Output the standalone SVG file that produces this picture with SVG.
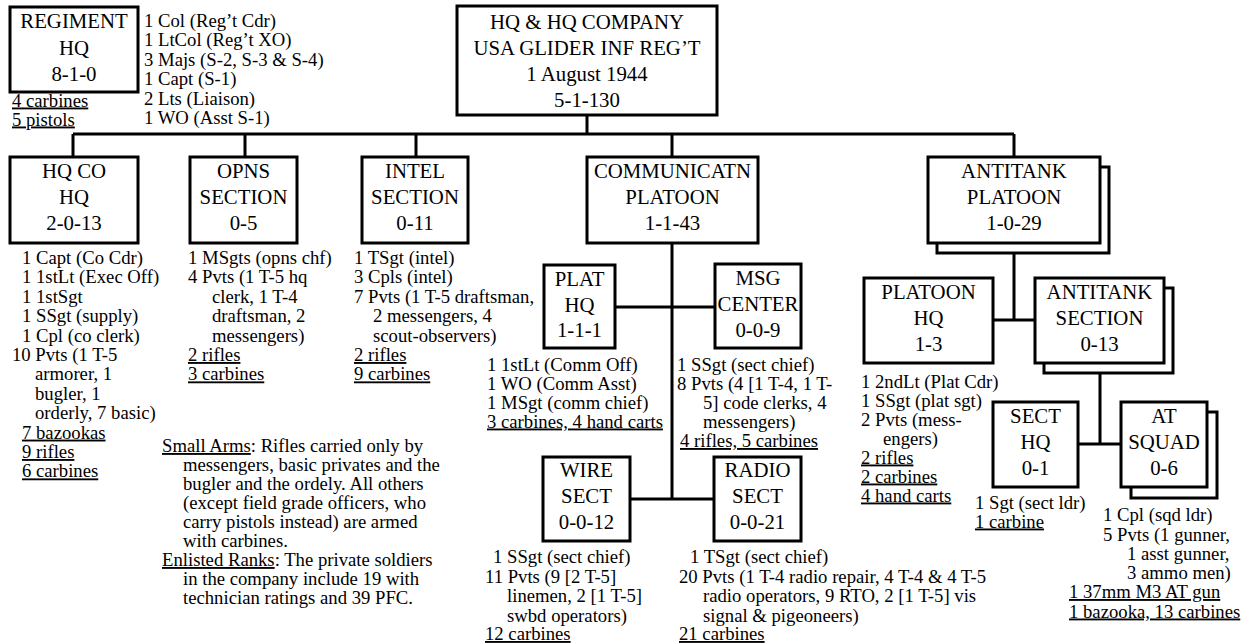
<svg xmlns="http://www.w3.org/2000/svg" width="1249" height="644" viewBox="0 0 1249 644">
<style>
.b{fill:#fff;stroke:#000;stroke-width:3}
.c{stroke:#000;stroke-width:3;fill:none}
.h{font-family:"Liberation Serif","Times New Roman",serif;font-size:20.8px;text-anchor:middle;fill:#000}
.t{font-family:"Liberation Serif","Times New Roman",serif;font-size:18.7px;fill:#000}
.u{text-decoration:underline}
</style>
<rect width="1249" height="644" fill="#fff"/>
<g id="connectors">
<path class="c" d="M587,115V134M73,134H1014M73,134V157M245,134V157M416,134V157M672,134V157M1014,134V157"/>
<path class="c" d="M672,243V499M615,307H715M630,499H714"/>
<path class="c" d="M1014,252V320M993,320H1035"/>
<path class="c" d="M1100,373V444M1078,444H1121"/>
</g>
<g id="reg">
<rect class="b" x="10" y="7" width="128" height="85"/>
<text class="h" x="74" y="28">REGIMENT</text>
<text class="h" x="74" y="55">HQ</text>
<text class="h" x="74" y="81">8-1-0</text>
<text class="t" x="144" y="27">1 Col (Reg’t Cdr)</text>
<text class="t" x="144" y="46.4">1 LtCol (Reg’t XO)</text>
<text class="t" x="144" y="65.8">3 Majs (S-2, S-3 &amp; S-4)</text>
<text class="t" x="144" y="85.2">1 Capt (S-1)</text>
<text class="t" x="144" y="104.6">2 Lts (Liaison)</text>
<text class="t" x="144" y="124">1 WO (Asst S-1)</text>
<text class="t u" x="12" y="106.5">4 carbines</text>
<text class="t u" x="12" y="125.5">5 pistols</text>
</g>
<g id="top">
<rect class="b" x="457" y="6" width="260" height="109"/>
<text class="h" x="587" y="29">HQ &amp; HQ COMPANY</text>
<text class="h" x="587" y="55">USA GLIDER INF REG’T</text>
<text class="h" x="587" y="81">1 August 1944</text>
<text class="h" x="587" y="107">5-1-130</text>
</g>
<g id="hqco">
<rect class="b" x="10" y="157" width="128" height="86"/>
<text class="h" x="74" y="178">HQ CO</text>
<text class="h" x="74" y="204">HQ</text>
<text class="h" x="74" y="230">2-0-13</text>
<text class="t" x="22" y="264">1 Capt (Co Cdr)</text>
<text class="t" x="22" y="283.4">1 1stLt (Exec Off)</text>
<text class="t" x="22" y="302.8">1 1stSgt</text>
<text class="t" x="22" y="322.2">1 SSgt (supply)</text>
<text class="t" x="22" y="341.6">1 Cpl (co clerk)</text>
<text class="t" x="12" y="361">10 Pvts (1 T-5</text>
<text class="t" x="35" y="380.4">armorer, 1</text>
<text class="t" x="35" y="399.8">bugler, 1</text>
<text class="t" x="35" y="419.2">orderly, 7 basic)</text>
<text class="t u" x="22" y="438.6">7 bazookas</text>
<text class="t u" x="22" y="458">9 rifles</text>
<text class="t u" x="22" y="477.4">6 carbines</text>
</g>
<g id="opns">
<rect class="b" x="190" y="157" width="107" height="86"/>
<text class="h" x="243.5" y="178">OPNS</text>
<text class="h" x="243.5" y="204">SECTION</text>
<text class="h" x="243.5" y="230">0-5</text>
<text class="t" x="188" y="264">1 MSgts (opns chf)</text>
<text class="t" x="188" y="283.4">4 Pvts (1 T-5 hq</text>
<text class="t" x="212" y="302.8">clerk, 1 T-4</text>
<text class="t" x="212" y="322.2">draftsman, 2</text>
<text class="t" x="212" y="341.6">messengers)</text>
<text class="t u" x="188" y="361">2 rifles</text>
<text class="t u" x="188" y="380.4">3 carbines</text>
</g>
<g id="intel">
<rect class="b" x="362" y="157" width="106" height="86"/>
<text class="h" x="415" y="178">INTEL</text>
<text class="h" x="415" y="204">SECTION</text>
<text class="h" x="415" y="230">0-11</text>
<text class="t" x="354" y="264">1 TSgt (intel)</text>
<text class="t" x="354" y="283.4">3 Cpls (intel)</text>
<text class="t" x="354" y="302.8">7 Pvts (1 T-5 draftsman,</text>
<text class="t" x="373" y="322.2">2 messengers, 4</text>
<text class="t" x="373" y="341.6">scout-observers)</text>
<text class="t u" x="354" y="361">2 rifles</text>
<text class="t u" x="354" y="380.4">9 carbines</text>
</g>
<g id="comm">
<rect class="b" x="587" y="157" width="171" height="86"/>
<text class="h" x="672.5" y="178">COMMUNICATN</text>
<text class="h" x="672.5" y="204">PLATOON</text>
<text class="h" x="672.5" y="230">1-1-43</text>
</g>
<g id="plathq">
<rect class="b" x="544" y="265" width="71" height="83"/>
<text class="h" x="579.5" y="286">PLAT</text>
<text class="h" x="579.5" y="312">HQ</text>
<text class="h" x="579.5" y="337">1-1-1</text>
<text class="t" x="487" y="370.5">1 1stLt (Comm Off)</text>
<text class="t" x="487" y="389.5">1 WO (Comm Asst)</text>
<text class="t" x="487" y="408.5">1 MSgt (comm chief)</text>
<text class="t u" x="487" y="427.5">3 carbines, 4 hand carts</text>
</g>
<g id="msg">
<rect class="b" x="715" y="264" width="86" height="84"/>
<text class="h" x="758" y="285">MSG</text>
<text class="h" x="758" y="311">CENTER</text>
<text class="h" x="758" y="337">0-0-9</text>
<text class="t" x="677" y="371">1 SSgt (sect chief)</text>
<text class="t" x="677" y="390">8 Pvts (4 [1 T-4, 1 T-</text>
<text class="t" x="703" y="409">5] code clerks, 4</text>
<text class="t" x="703" y="428">messengers)</text>
<text class="t u" x="680" y="447">4 rifles, 5 carbines</text>
</g>
<g id="wire">
<rect class="b" x="543" y="457" width="87" height="84"/>
<text class="h" x="586.5" y="477">WIRE</text>
<text class="h" x="586.5" y="503">SECT</text>
<text class="h" x="586.5" y="529">0-0-12</text>
<text class="t" x="493" y="563">1 SSgt (sect chief)</text>
<text class="t" x="485" y="582.5">11 Pvts (9 [2 T-5]</text>
<text class="t" x="507" y="602">linemen, 2 [1 T-5]</text>
<text class="t" x="507" y="621.5">swbd operators)</text>
<text class="t u" x="485" y="640">12 carbines</text>
</g>
<g id="radio">
<rect class="b" x="714" y="457" width="87" height="84"/>
<text class="h" x="757.5" y="477">RADIO</text>
<text class="h" x="757.5" y="503">SECT</text>
<text class="h" x="757.5" y="529">0-0-21</text>
<text class="t" x="690" y="563">1 TSgt (sect chief)</text>
<text class="t" x="679" y="582.5">20 Pvts (1 T-4 radio repair, 4 T-4 &amp; 4 T-5</text>
<text class="t" x="703" y="602">radio operators, 9 RTO, 2 [1 T-5] vis</text>
<text class="t" x="703" y="621.5">signal &amp; pigeoneers)</text>
<text class="t u" x="679" y="640">21 carbines</text>
</g>
<g id="atplt">
<rect class="b" x="937" y="167" width="172" height="86"/>
<rect class="b" x="928" y="157" width="172" height="86"/>
<text class="h" x="1014" y="178">ANTITANK</text>
<text class="h" x="1014" y="204">PLATOON</text>
<text class="h" x="1014" y="230">1-0-29</text>
</g>
<g id="pltnhq">
<rect class="b" x="864" y="278" width="129" height="85"/>
<text class="h" x="928.5" y="299">PLATOON</text>
<text class="h" x="928.5" y="325">HQ</text>
<text class="h" x="928.5" y="351">1-3</text>
<text class="t" x="861" y="387.5">1 2ndLt (Plat Cdr)</text>
<text class="t" x="861" y="406.5">1 SSgt (plat sgt)</text>
<text class="t" x="861" y="425.5">2 Pvts (mess-</text>
<text class="t" x="883" y="444.5">engers)</text>
<text class="t u" x="861" y="463.5">2 rifles</text>
<text class="t u" x="861" y="482.5">2 carbines</text>
<text class="t u" x="861" y="501.5">4 hand carts</text>
</g>
<g id="atsec">
<rect class="b" x="1044" y="288" width="129" height="85"/>
<rect class="b" x="1035" y="278" width="129" height="85"/>
<text class="h" x="1099.5" y="299">ANTITANK</text>
<text class="h" x="1099.5" y="325">SECTION</text>
<text class="h" x="1099.5" y="351">0-13</text>
</g>
<g id="secthq">
<rect class="b" x="993" y="402" width="85" height="85"/>
<text class="h" x="1035.5" y="423">SECT</text>
<text class="h" x="1035.5" y="449">HQ</text>
<text class="h" x="1035.5" y="475">0-1</text>
<text class="t" x="975" y="508.5">1 Sgt (sect ldr)</text>
<text class="t u" x="975" y="527.5">1 carbine</text>
</g>
<g id="atsqd">
<rect class="b" x="1131" y="412" width="86" height="86"/>
<rect class="b" x="1121" y="402" width="86" height="85"/>
<text class="h" x="1164" y="423">AT</text>
<text class="h" x="1164" y="449">SQUAD</text>
<text class="h" x="1164" y="475">0-6</text>
<text class="t" x="1103" y="521">1 Cpl (sqd ldr)</text>
<text class="t" x="1103" y="540.5">5 Pvts (1 gunner,</text>
<text class="t" x="1127" y="560">1 asst gunner,</text>
<text class="t" x="1127" y="579">3 ammo men)</text>
<text class="t u" x="1069" y="598">1 37mm M3 AT gun</text>
<text class="t u" x="1069" y="617.5">1 bazooka, 13 carbines</text>
</g>
<g id="notes">
<text class="t" x="162" y="452"><tspan class="u">Small Arms</tspan>: Rifles carried only by</text>
<text class="t" x="183" y="471">messengers, basic privates and the</text>
<text class="t" x="183" y="490">bugler and the ordely. All others</text>
<text class="t" x="183" y="509">(except field grade officers, who</text>
<text class="t" x="183" y="528">carry pistols instead) are armed</text>
<text class="t" x="183" y="547">with carbines.</text>
<text class="t" x="162" y="566"><tspan class="u">Enlisted Ranks</tspan>: The private soldiers</text>
<text class="t" x="183" y="585">in the company include 19 with</text>
<text class="t" x="183" y="604">technician ratings and 39 PFC.</text>
</g>
</svg>
